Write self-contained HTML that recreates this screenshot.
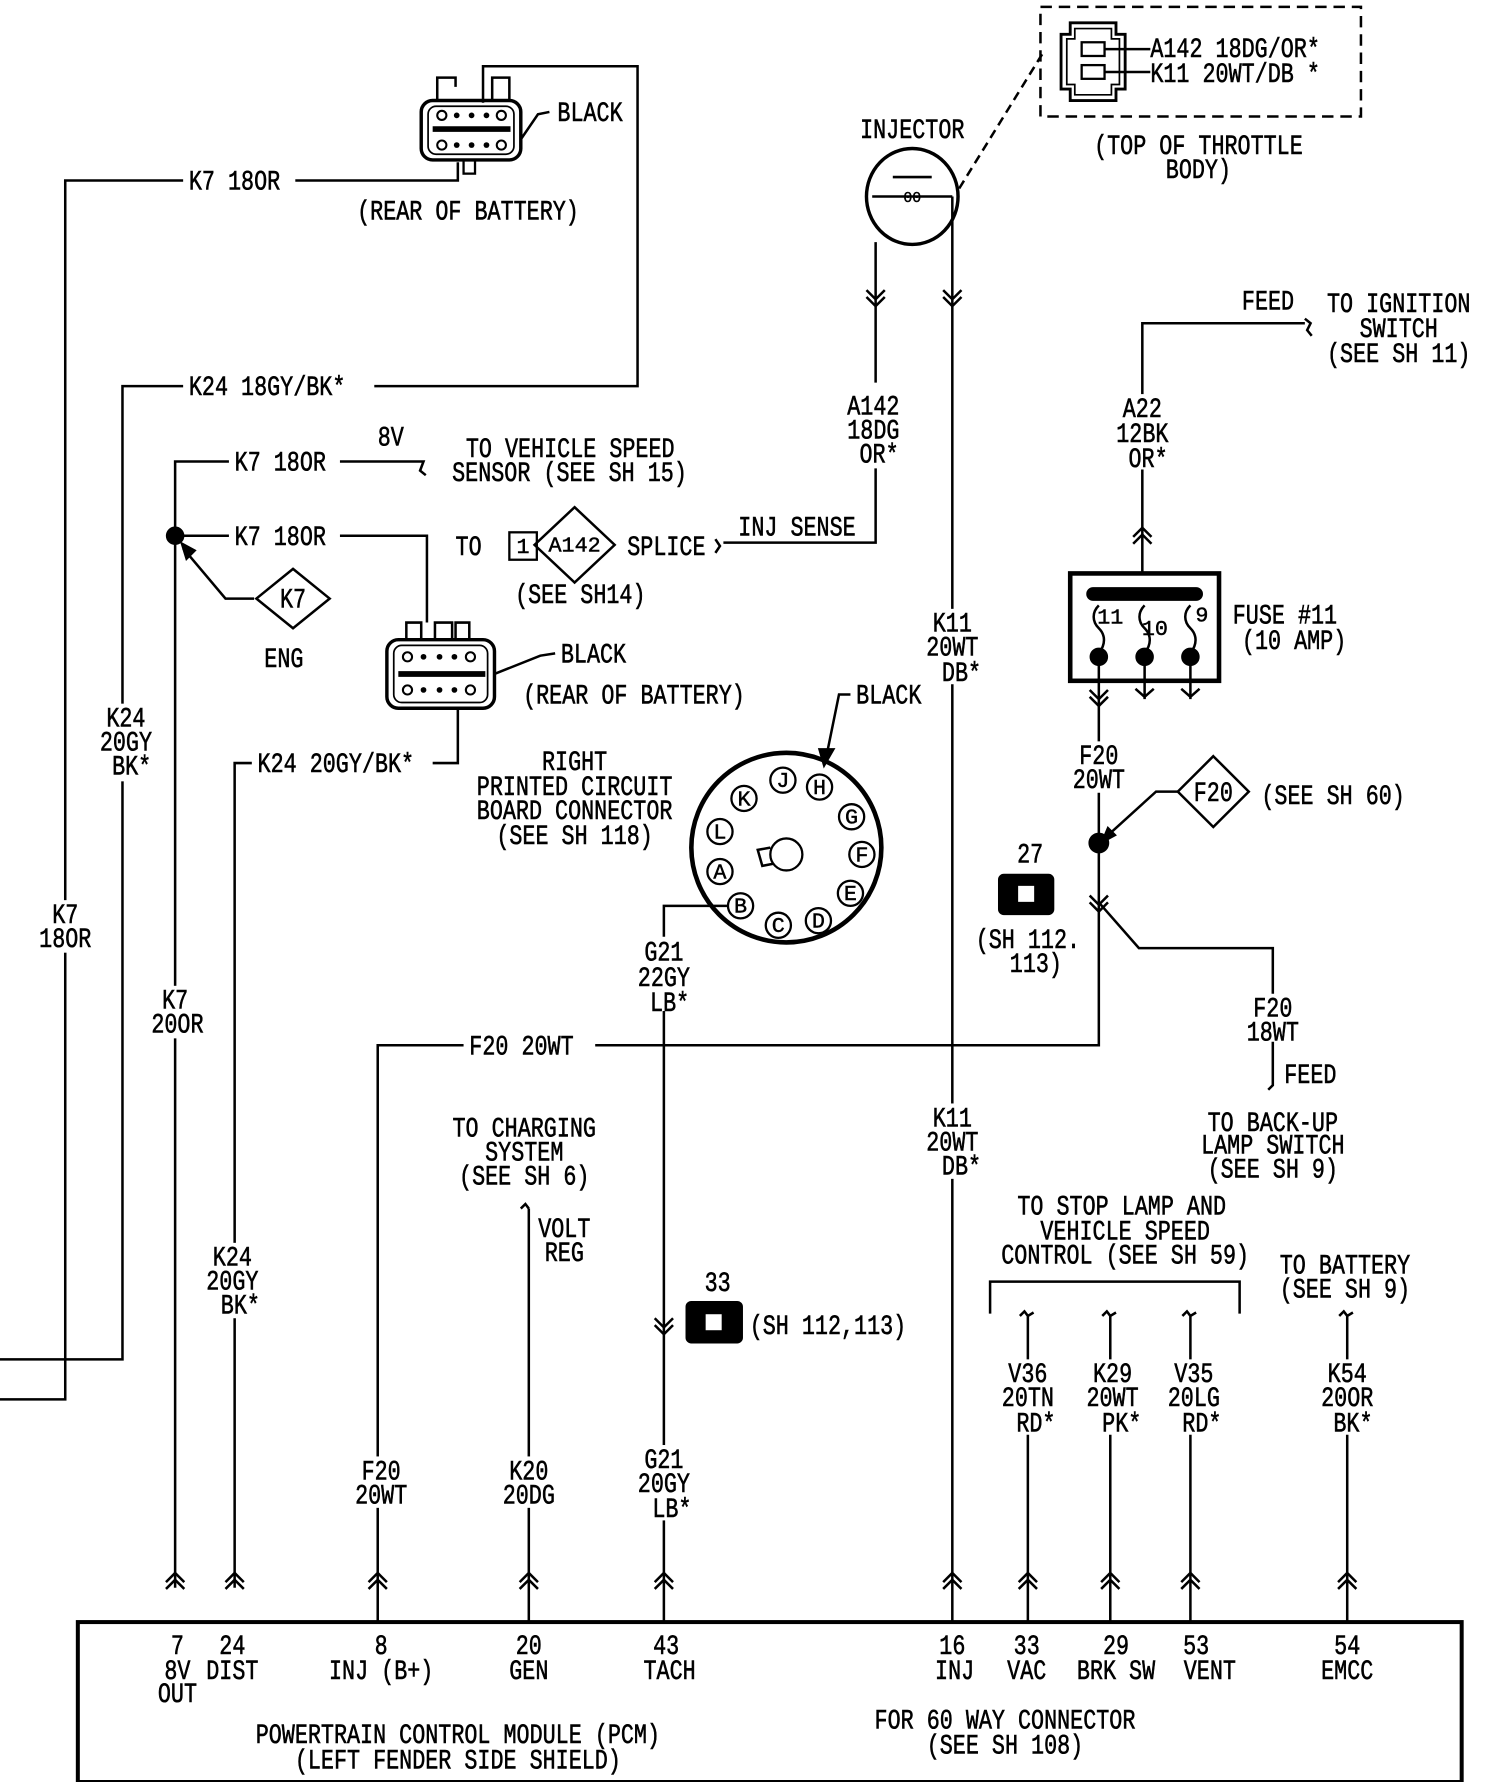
<!DOCTYPE html>
<html><head><meta charset="utf-8"><style>
html,body{margin:0;padding:0;background:#fff;}
svg{display:block;}
text{font-family:"Liberation Mono",monospace;font-size:19px;fill:#000;stroke:#000;stroke-width:0.4;}
.m{text-anchor:middle;}
</style></head><body>
<svg width="1488" height="1782" viewBox="0 0 1300 1560" preserveAspectRatio="none" xmlns="http://www.w3.org/2000/svg">
<defs>
<g id="up"><path d="M-8,6 L0,-2 L8,6 M-8,0 L0,-8 L8,0" fill="none" stroke="#000" stroke-width="2.2"/></g>
<g id="dn"><path d="M-8,-6 L0,2 L8,-6 M-8,0 L0,8 L8,0" fill="none" stroke="#000" stroke-width="2.2"/></g>
<g id="dn1"><path d="M-8,-3 L0,4 L8,-3" fill="none" stroke="#000" stroke-width="2.2"/></g>
</defs>
<g fill="none" stroke="#000" stroke-width="2.2">
<path d="M0,1225 H57 V158 H160 M258,158 H400 V142"/>
<path d="M0,1190 H107 V338 H160 M327,338 H557 V58 H422 V90"/>
<rect x="368" y="88" width="87" height="52" rx="10" stroke-width="3"/>
<rect x="374" y="93" width="75" height="42" rx="7" stroke-width="1.5"/>
<path d="M382,88 V68 H398 V76 M430,88 V68 H445 V88"/>
<rect x="405" y="140" width="10" height="12" stroke-width="2"/>
<line x1="378" y1="113" x2="446" y2="113" stroke-width="5"/>
<path d="M480,98 L470,100 L455,122" />
<path d="M153,1390 V404 H200 M297,404 H365 M365,404 l5,0 l-3,8 l5,4"/>
<path d="M160,469 H200 M297,469 H373 V545"/>
<path d="M222,524 H197 L160,480"/>
<polygon points="159,476 170,482 163,489" fill="#000"/>
<polygon points="256,498 288,524 256,550 224,524"/>
<rect x="338" y="560" width="94" height="60" rx="10" stroke-width="3"/>
<rect x="344" y="565" width="82" height="50" rx="7" stroke-width="1.5"/>
<path d="M355,560 V545 H368 V560 M380,560 V545 H395 V560 M398,560 V545 H410 V560"/>
<line x1="348" y1="590" x2="424" y2="590" stroke-width="5"/>
<path d="M485,572 L472,574 L432,590"/>
<path d="M400,620 V668 H378 M220,668 H205 V1390"/>
<rect x="445" y="466" width="24" height="24" stroke-width="2"/>
<polygon points="502,444 537,477 502,510 467,477"/>
<path d="M625,472 l4,6 l-4,6 M632,475 H765 V410 M765,335 V212"/>
<ellipse cx="797" cy="172" rx="40" ry="42" stroke-width="3"/>
<path d="M762,172 H832 M780,155 H814"/>
<path d="M838,165 L912,45" stroke-dasharray="8,5"/>
<rect x="909" y="6" width="280" height="96" stroke-dasharray="10,6"/>
<path d="M935,20 H975 V30 H983 V78 H975 V88 H935 V78 H927 V30 H935 Z" stroke-width="2.5"/>
<path d="M939,25 H971 V34 H978 V74 H971 V83 H939 V74 H932 V34 H939 Z" stroke-width="1.5"/>
<rect x="945" y="37" width="20" height="12" stroke-width="2"/>
<rect x="945" y="57" width="20" height="12" stroke-width="2"/>
<path d="M965,43 H1005 M965,63 H1005"/>
<path d="M832,172 V1420"/>
<path d="M998,502 V283 H1140 M1140,279 l5,4 l-3,6 l4,5"/>
<rect x="935" y="502" width="130" height="94" stroke-width="4"/>
<line x1="955" y1="520" x2="1045" y2="520" stroke-width="12" stroke-linecap="round"/>
<path d="M960,530 c-6,6 -6,14 0,20 c6,6 6,14 0,22 M1000,530 c-6,6 -6,14 0,20 c6,6 6,14 0,22 M1040,530 c-6,6 -6,14 0,20 c6,6 6,14 0,22"/>
<circle cx="960" cy="575" r="7" fill="#000"/><circle cx="1000" cy="575" r="7" fill="#000"/><circle cx="1040" cy="575" r="7" fill="#000"/>
<path d="M960,575 V915 H520 M405,915 H330 V1420 M1000,575 V612 M1040,575 V612"/>
<circle cx="960" cy="738" r="8" fill="#000"/>
<circle cx="153" cy="469" r="7" fill="#000"/>
<polygon points="1060,662 1091,693 1060,724 1029,693"/>
<path d="M1029,693 H1010 L966,733"/>
<polygon points="963,737 968,725 974,731" fill="#000"/>
<path d="M960,790 L995,830 H1112 V870 M1112,912 V950 l-4,4"/>
<rect x="873" y="766" width="47" height="34" rx="4" fill="#000"/>
<rect x="890" y="776" width="13" height="13" fill="#fff" stroke="#fff" stroke-width="1"/>
<circle cx="687" cy="742" r="83" stroke-width="4"/>
<circle cx="687" cy="748" r="14" stroke-width="2"/>
<path d="M673,742 L662,744 L666,758 L676,756"/>
<path d="M743,608 H733 L722,662"/>
<polygon points="716,656 728,656 720,670" fill="#000"/>
<path d="M636,793 H580 V820 M580,885 V1420"/>
<rect x="600" y="1140" width="48" height="35" rx="4" fill="#000"/>
<rect x="617" y="1151" width="13" height="13" fill="#fff" stroke="#fff" stroke-width="1"/>
<path d="M455,1058 l4,-4 l3,4 M462,1058 V1420"/>
<path d="M865,1150 V1122 H1083 V1150"/>
<path d="M891,1152 l4,-4 l3,4 l5,-3 M898,1152 V1420 M963,1152 l4,-4 l3,4 l5,-3 M970,1152 V1420 M1033,1152 l4,-4 l3,4 l5,-3 M1040,1152 V1420 M1170,1152 l4,-4 l3,4 l5,-3 M1177,1152 V1420"/>
<rect x="68" y="1420" width="1209" height="140" stroke-width="3.5"/>
</g>
<!-- connector pins -->
<g stroke="#000" stroke-width="1.8" fill="none">
<circle cx="386" cy="101" r="4"/><circle cx="438" cy="101" r="4"/><circle cx="386" cy="127" r="4"/><circle cx="438" cy="127" r="4"/>
<circle cx="356" cy="575" r="4"/><circle cx="411" cy="575" r="4"/><circle cx="356" cy="604" r="4"/><circle cx="411" cy="604" r="4"/>
</g>
<g fill="#000">
<circle cx="399" cy="101" r="2.5"/><circle cx="412" cy="101" r="2.5"/><circle cx="425" cy="101" r="2.5"/>
<circle cx="399" cy="127" r="2.5"/><circle cx="412" cy="127" r="2.5"/><circle cx="425" cy="127" r="2.5"/>
<circle cx="370" cy="575" r="2.5"/><circle cx="384" cy="575" r="2.5"/><circle cx="397" cy="575" r="2.5"/>
<circle cx="370" cy="604" r="2.5"/><circle cx="384" cy="604" r="2.5"/><circle cx="397" cy="604" r="2.5"/>
</g>
<!-- wire gaps for labels -->
<g fill="#fff">
<rect x="82" y="616" width="56" height="68"/>
<rect x="30" y="788" width="56" height="46"/>
<rect x="126" y="863" width="56" height="46"/>
<rect x="176" y="1088" width="60" height="66"/>
<rect x="802" y="533" width="62" height="66"/>
<rect x="802" y="966" width="62" height="66"/>
<rect x="968" y="345" width="62" height="66"/>
<rect x="930" y="649" width="60" height="45"/>
<rect x="868" y="1190" width="60" height="66"/>
<rect x="940" y="1190" width="64" height="66"/>
<rect x="1012" y="1190" width="64" height="66"/>
<rect x="1147" y="1190" width="62" height="66"/>
<rect x="303" y="1275" width="60" height="45"/>
<rect x="432" y="1275" width="60" height="45"/>
<rect x="550" y="1265" width="62" height="66"/>
</g>
<use href="#dn" x="765" y="260"/><use href="#dn" x="832" y="260"/>
<use href="#up" x="998" y="470"/>
<use href="#dn" x="960" y="610"/><use href="#dn1" x="1000" y="606"/><use href="#dn1" x="1040" y="606"/>
<use href="#dn" x="960" y="790"/>
<use href="#dn" x="580" y="1160"/>
<use href="#up" x="153" y="1385"/><use href="#up" x="205" y="1385"/><use href="#up" x="330" y="1385"/><use href="#up" x="462" y="1385"/><use href="#up" x="580" y="1385"/><use href="#up" x="832" y="1385"/><use href="#up" x="898" y="1385"/><use href="#up" x="970" y="1385"/><use href="#up" x="1040" y="1385"/><use href="#up" x="1177" y="1385"/>
<g fill="none" stroke="#000" stroke-width="2">
<circle cx="650" cy="699" r="11"/><circle cx="684" cy="683" r="11"/><circle cx="716" cy="689" r="11"/><circle cx="744" cy="715" r="11"/><circle cx="753" cy="748" r="11"/><circle cx="743" cy="782" r="11"/><circle cx="715" cy="806" r="11"/><circle cx="680" cy="810" r="11"/><circle cx="647" cy="793" r="11"/><circle cx="629" cy="763" r="11"/><circle cx="629" cy="728" r="11"/>
</g>
<g style="font-size:15px">
<text class="m" x="650" y="705">K</text><text class="m" x="684" y="689">J</text><text class="m" x="716" y="695">H</text><text class="m" x="744" y="721">G</text><text class="m" x="753" y="754">F</text><text class="m" x="743" y="788">E</text><text class="m" x="715" y="812">D</text><text class="m" x="680" y="816">C</text><text class="m" x="647" y="799">B</text><text class="m" x="629" y="769">A</text><text class="m" x="629" y="734">L</text>
<text class="m" x="797" y="177" style="font-size:13px">00</text>
<text class="m" x="457" y="484">1</text>
<text class="m" x="502" y="483">A142</text>
<text class="m" x="970" y="546">11</text><text class="m" x="1009" y="556">10</text><text class="m" x="1050" y="544">9</text>
</g>
<g>
<text transform="translate(165,166) scale(1,1.3)">K7 18OR</text>
<text transform="translate(487,106) scale(1,1.3)">BLACK</text>
<text transform="translate(312,192) scale(1,1.3)">(REAR OF BATTERY)</text>
<text transform="translate(165,346) scale(1,1.3)">K24 18GY/BK*</text>
<text transform="translate(205,412) scale(1,1.3)">K7 18OR</text>
<text transform="translate(330,390) scale(1,1.3)">8V</text>
<text transform="translate(407,400) scale(1,1.3)">TO VEHICLE SPEED</text>
<text transform="translate(395,421) scale(1,1.3)">SENSOR (SEE SH 15)</text>
<text transform="translate(205,477) scale(1,1.3)">K7 18OR</text>
<text class="m" transform="translate(256,532) scale(1,1.3)">K7</text>
<text class="m" transform="translate(248,584) scale(1,1.3)">ENG</text>
<text transform="translate(398,486) scale(1,1.3)">TO</text>
<text transform="translate(548,486) scale(1,1.3)">SPLICE</text>
<text transform="translate(645,469) scale(1,1.3)">INJ SENSE</text>
<text transform="translate(450,528) scale(1,1.3)">(SEE SH14)</text>
<text transform="translate(490,580) scale(1,1.3)">BLACK</text>
<text transform="translate(457,616) scale(1,1.3)">(REAR OF BATTERY)</text>
<text transform="translate(225,676) scale(1,1.3)">K24 20GY/BK*</text>
<text class="m" transform="translate(110,636) scale(1,1.3)">K24</text>
<text class="m" transform="translate(110,657) scale(1,1.3)">20GY</text>
<text class="m" transform="translate(115,678) scale(1,1.3)">BK*</text>
<text class="m" transform="translate(57,808) scale(1,1.3)">K7</text>
<text class="m" transform="translate(57,829) scale(1,1.3)">18OR</text>
<text class="m" transform="translate(153,883) scale(1,1.3)">K7</text>
<text class="m" transform="translate(155,904) scale(1,1.3)">20OR</text>
<text class="m" transform="translate(203,1108) scale(1,1.3)">K24</text>
<text class="m" transform="translate(203,1129) scale(1,1.3)">20GY</text>
<text class="m" transform="translate(210,1150) scale(1,1.3)">BK*</text>
<text class="m" transform="translate(797,121) scale(1,1.3)">INJECTOR</text>
<text transform="translate(1005,50) scale(1,1.3)">A142 18DG/OR*</text>
<text transform="translate(1005,72) scale(1,1.3)">K11 20WT/DB *</text>
<text class="m" transform="translate(1047,135) scale(1,1.3)">(TOP OF THROTTLE</text>
<text class="m" transform="translate(1047,156) scale(1,1.3)">BODY)</text>
<text class="m" transform="translate(763,363) scale(1,1.3)">A142</text>
<text class="m" transform="translate(763,384) scale(1,1.3)">18DG</text>
<text class="m" transform="translate(768,405) scale(1,1.3)">OR*</text>
<text transform="translate(1085,271) scale(1,1.3)">FEED</text>
<text class="m" transform="translate(1222,273) scale(1,1.3)">TO IGNITION</text>
<text class="m" transform="translate(1222,295) scale(1,1.3)">SWITCH</text>
<text class="m" transform="translate(1222,317) scale(1,1.3)">(SEE SH 11)</text>
<text class="m" transform="translate(998,365) scale(1,1.3)">A22</text>
<text class="m" transform="translate(998,387) scale(1,1.3)">12BK</text>
<text class="m" transform="translate(1003,409) scale(1,1.3)">OR*</text>
<text transform="translate(1077,546) scale(1,1.3)">FUSE #11</text>
<text transform="translate(1085,568) scale(1,1.3)">(10 AMP)</text>
<text class="m" transform="translate(832,553) scale(1,1.3)">K11</text>
<text class="m" transform="translate(832,574) scale(1,1.3)">20WT</text>
<text class="m" transform="translate(840,596) scale(1,1.3)">DB*</text>
<text class="m" transform="translate(960,669) scale(1,1.3)">F20</text>
<text class="m" transform="translate(960,690) scale(1,1.3)">20WT</text>
<text class="m" transform="translate(1060,701) scale(1,1.3)">F20</text>
<text transform="translate(1102,704) scale(1,1.3)">(SEE SH 60)</text>
<text class="m" transform="translate(900,755) scale(1,1.3)">27</text>
<text class="m" transform="translate(898,830) scale(1,1.3)">(SH 112.</text>
<text class="m" transform="translate(905,851) scale(1,1.3)">113)</text>
<text transform="translate(748,616) scale(1,1.3)">BLACK</text>
<text class="m" transform="translate(502,674) scale(1,1.3)">RIGHT</text>
<text class="m" transform="translate(502,696) scale(1,1.3)">PRINTED CIRCUIT</text>
<text class="m" transform="translate(502,717) scale(1,1.3)">BOARD CONNECTOR</text>
<text class="m" transform="translate(502,739) scale(1,1.3)">(SEE SH 118)</text>
<text class="m" transform="translate(580,841) scale(1,1.3)">G21</text>
<text class="m" transform="translate(580,863) scale(1,1.3)">22GY</text>
<text class="m" transform="translate(585,885) scale(1,1.3)">LB*</text>
<text transform="translate(410,923) scale(1,1.3)">F20 20WT</text>
<text class="m" transform="translate(1112,890) scale(1,1.3)">F20</text>
<text class="m" transform="translate(1112,911) scale(1,1.3)">18WT</text>
<text transform="translate(1122,948) scale(1,1.3)">FEED</text>
<text class="m" transform="translate(1112,990) scale(1,1.3)">TO BACK-UP</text>
<text class="m" transform="translate(1112,1010) scale(1,1.3)">LAMP SWITCH</text>
<text class="m" transform="translate(1112,1031) scale(1,1.3)">(SEE SH 9)</text>
<text class="m" transform="translate(832,986) scale(1,1.3)">K11</text>
<text class="m" transform="translate(832,1007) scale(1,1.3)">20WT</text>
<text class="m" transform="translate(840,1028) scale(1,1.3)">DB*</text>
<text class="m" transform="translate(458,995) scale(1,1.3)">TO CHARGING</text>
<text class="m" transform="translate(458,1016) scale(1,1.3)">SYSTEM</text>
<text class="m" transform="translate(458,1037) scale(1,1.3)">(SEE SH 6)</text>
<text class="m" transform="translate(493,1083) scale(1,1.3)">VOLT</text>
<text class="m" transform="translate(493,1104) scale(1,1.3)">REG</text>
<text class="m" transform="translate(627,1130) scale(1,1.3)">33</text>
<text transform="translate(655,1168) scale(1,1.3)">(SH 112,113)</text>
<text class="m" transform="translate(980,1063) scale(1,1.3)">TO STOP LAMP AND</text>
<text class="m" transform="translate(983,1085) scale(1,1.3)">VEHICLE SPEED</text>
<text class="m" transform="translate(983,1106) scale(1,1.3)">CONTROL (SEE SH 59)</text>
<text class="m" transform="translate(1175,1115) scale(1,1.3)">TO BATTERY</text>
<text class="m" transform="translate(1175,1136) scale(1,1.3)">(SEE SH 9)</text>
<text class="m" transform="translate(898,1210) scale(1,1.3)">V36</text>
<text class="m" transform="translate(898,1231) scale(1,1.3)">20TN</text>
<text class="m" transform="translate(905,1253) scale(1,1.3)">RD*</text>
<text class="m" transform="translate(972,1210) scale(1,1.3)">K29</text>
<text class="m" transform="translate(972,1231) scale(1,1.3)">20WT</text>
<text class="m" transform="translate(980,1253) scale(1,1.3)">PK*</text>
<text class="m" transform="translate(1043,1210) scale(1,1.3)">V35</text>
<text class="m" transform="translate(1043,1231) scale(1,1.3)">20LG</text>
<text class="m" transform="translate(1050,1253) scale(1,1.3)">RD*</text>
<text class="m" transform="translate(1177,1210) scale(1,1.3)">K54</text>
<text class="m" transform="translate(1177,1231) scale(1,1.3)">20OR</text>
<text class="m" transform="translate(1182,1253) scale(1,1.3)">BK*</text>
<text class="m" transform="translate(333,1295) scale(1,1.3)">F20</text>
<text class="m" transform="translate(333,1316) scale(1,1.3)">20WT</text>
<text class="m" transform="translate(462,1295) scale(1,1.3)">K20</text>
<text class="m" transform="translate(462,1316) scale(1,1.3)">20DG</text>
<text class="m" transform="translate(580,1285) scale(1,1.3)">G21</text>
<text class="m" transform="translate(580,1306) scale(1,1.3)">20GY</text>
<text class="m" transform="translate(587,1328) scale(1,1.3)">LB*</text>
<text class="m" transform="translate(155,1448) scale(1,1.3)">7</text>
<text class="m" transform="translate(155,1470) scale(1,1.3)">8V</text>
<text class="m" transform="translate(155,1490) scale(1,1.3)">OUT</text>
<text class="m" transform="translate(203,1448) scale(1,1.3)">24</text>
<text class="m" transform="translate(203,1470) scale(1,1.3)">DIST</text>
<text class="m" transform="translate(333,1448) scale(1,1.3)">8</text>
<text class="m" transform="translate(333,1470) scale(1,1.3)">INJ (B+)</text>
<text class="m" transform="translate(462,1448) scale(1,1.3)">20</text>
<text class="m" transform="translate(462,1470) scale(1,1.3)">GEN</text>
<text class="m" transform="translate(582,1448) scale(1,1.3)">43</text>
<text class="m" transform="translate(585,1470) scale(1,1.3)">TACH</text>
<text class="m" transform="translate(832,1448) scale(1,1.3)">16</text>
<text class="m" transform="translate(834,1470) scale(1,1.3)">INJ</text>
<text class="m" transform="translate(897,1448) scale(1,1.3)">33</text>
<text class="m" transform="translate(897,1470) scale(1,1.3)">VAC</text>
<text class="m" transform="translate(975,1448) scale(1,1.3)">29</text>
<text class="m" transform="translate(975,1470) scale(1,1.3)">BRK SW</text>
<text class="m" transform="translate(1045,1448) scale(1,1.3)">53</text>
<text class="m" transform="translate(1057,1470) scale(1,1.3)">VENT</text>
<text class="m" transform="translate(1177,1448) scale(1,1.3)">54</text>
<text class="m" transform="translate(1177,1470) scale(1,1.3)">EMCC</text>
<text class="m" transform="translate(400,1526) scale(1,1.3)">POWERTRAIN CONTROL MODULE (PCM)</text>
<text class="m" transform="translate(400,1548) scale(1,1.3)">(LEFT FENDER SIDE SHIELD)</text>
<text class="m" transform="translate(878,1513) scale(1,1.3)">FOR 60 WAY CONNECTOR</text>
<text class="m" transform="translate(878,1535) scale(1,1.3)">(SEE SH 108)</text>
</g>
</svg>
</body></html>
